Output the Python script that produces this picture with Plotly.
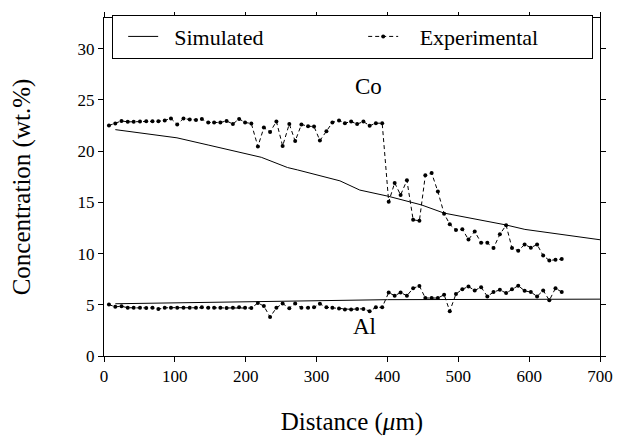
import plotly.graph_objects as go

# Distance of experimental measurement points (um)
dist = [7.0, 15.9, 24.7, 33.5, 41.9, 50.8, 59.6, 68.4, 76.7, 85.7,
        94.5, 103.3, 112.2, 121.0, 129.8, 138.1, 147.1, 155.4, 164.2, 173.0,
        181.9, 190.7, 199.1, 207.9, 217.2, 225.6, 234.4, 243.3, 252.1, 261.5,
        269.8, 278.6, 288.0, 296.4, 304.7, 313.9, 322.3, 331.7, 340.0, 348.8,
        357.2, 366.1, 374.9, 383.7, 392.6, 401.8, 410.2, 418.6, 427.5, 436.3,
        445.1, 453.5, 462.4, 471.2, 480.0, 488.0, 496.7, 505.7, 514.4, 523.2,
        532.2, 541.0, 549.7, 558.7, 567.5, 575.8, 584.6, 593.6, 602.4, 611.2,
        619.8, 628.5, 637.2, 646.0]

co_exp = [22.5, 22.7, 22.95, 22.86, 22.86, 22.9, 22.92, 22.92, 22.92, 23.0,
          23.2, 22.6, 23.2, 23.08, 23.05, 23.13, 22.8, 22.8, 22.8, 22.95,
          22.65, 23.15, 22.8, 22.7, 20.45, 22.3, 21.87, 22.9, 20.5, 22.65,
          20.98, 22.6, 22.44, 22.4, 21.04, 21.94, 22.8, 23.0, 22.73, 22.89,
          22.64, 22.89, 22.48, 22.73, 22.73, 15.05, 16.9, 15.72, 17.15, 13.3,
          13.2, 17.65, 17.86, 16.05, 13.9, 12.86, 12.29, 12.38, 11.37, 12.16,
          11.06, 11.05, 10.54, 11.88, 12.77, 10.55, 10.27, 10.89, 10.58, 10.89,
          9.8, 9.33, 9.39, 9.46]

al_exp = [5.02, 4.8, 4.85, 4.72, 4.7, 4.7, 4.68, 4.7, 4.58, 4.7,
          4.72, 4.72, 4.7, 4.72, 4.7, 4.75, 4.72, 4.7, 4.7, 4.68,
          4.7, 4.75, 4.72, 4.68, 5.18, 4.87, 3.81, 4.7, 5.12, 4.67,
          5.12, 4.7, 4.7, 4.75, 5.09, 4.75, 4.7, 4.64, 4.55, 4.55,
          4.6, 4.6, 4.38, 4.75, 4.75, 6.2, 5.88, 6.2, 5.88, 6.62,
          6.84, 5.66, 5.66, 5.66, 5.98, 4.38, 6.05, 6.52, 6.78, 6.4,
          6.72, 5.82, 6.24, 6.46, 6.14, 6.52, 6.87, 6.36, 6.24, 5.82,
          6.4, 5.44, 6.62, 6.24]

sim_co_x = [16, 103, 147, 222, 259, 273, 333, 361, 401, 448, 480, 524, 567, 594, 622, 700]
sim_co_y = [22.1, 21.3, 20.6, 19.4, 18.4, 18.17, 17.1, 16.2, 15.6, 14.75, 13.95, 13.4, 12.8, 12.36, 12.1, 11.35]

sim_al_x = [16, 270, 400, 700]
sim_al_y = [5.1, 5.4, 5.5, 5.55]

x_ticks = [0, 100, 200, 300, 400, 500, 600, 700]
y_ticks = [0, 5, 10, 15, 20, 25, 30]

FONT = "Liberation Serif"
NB = "\u00a0\u00a0"

fig = go.Figure()
fig.add_trace(go.Scatter(x=sim_co_x, y=sim_co_y, mode="lines",
                         line=dict(color="black", width=1),
                         name=NB + "Simulated", legendgroup="sim"))
fig.add_trace(go.Scatter(x=sim_al_x, y=sim_al_y, mode="lines",
                         line=dict(color="black", width=1),
                         name=NB + "Simulated", legendgroup="sim", showlegend=False))
fig.add_trace(go.Scatter(x=dist, y=co_exp, mode="lines+markers",
                         line=dict(color="black", width=1, dash="4px,3px"),
                         marker=dict(size=4, color="black"),
                         name=NB + "\u00a0Experimental", legendgroup="exp"))
fig.add_trace(go.Scatter(x=dist, y=al_exp, mode="lines+markers",
                         line=dict(color="black", width=1, dash="4px,3px"),
                         marker=dict(size=4, color="black"),
                         name=NB + "\u00a0Experimental", legendgroup="exp", showlegend=False))

fig.add_annotation(x=373, y=26.3, text="Co", showarrow=False,
                   font=dict(family=FONT, size=23, color="black"))
fig.add_annotation(x=368, y=2.9, text="Al", showarrow=False,
                   font=dict(family=FONT, size=23, color="black"))

axis_common = dict(showline=True, linecolor="black", linewidth=1, mirror="ticks",
                   ticks="outside", ticklen=5, tickcolor="black", showgrid=False,
                   zeroline=False, tickfont=dict(family=FONT, size=17, color="black"))

fig.update_layout(
    width=625, height=443,
    margin=dict(l=104, r=19, t=12, b=86),
    paper_bgcolor="white", plot_bgcolor="white",
    font=dict(family=FONT, color="black"),
    xaxis=dict(range=[0, 700], tickvals=x_ticks,
               title=dict(text="Distance (<i>μ</i>m)", font=dict(family=FONT, size=25), standoff=27),
               **axis_common),
    yaxis=dict(range=[0, 33], tickvals=y_ticks,
               title=dict(text="Concentration (wt.%)", font=dict(family=FONT, size=25), standoff=39),
               **axis_common),
    legend=dict(orientation="h", x=0.0165, y=1.01, xanchor="left", yanchor="top",
                bordercolor="black", borderwidth=1, bgcolor="white",
                entrywidth=184, entrywidthmode="pixels", indentation=11,
                tracegroupgap=0, itemwidth=30,
                font=dict(family=FONT, size=22, color="black")),
)

fig.write_html("out.html")
